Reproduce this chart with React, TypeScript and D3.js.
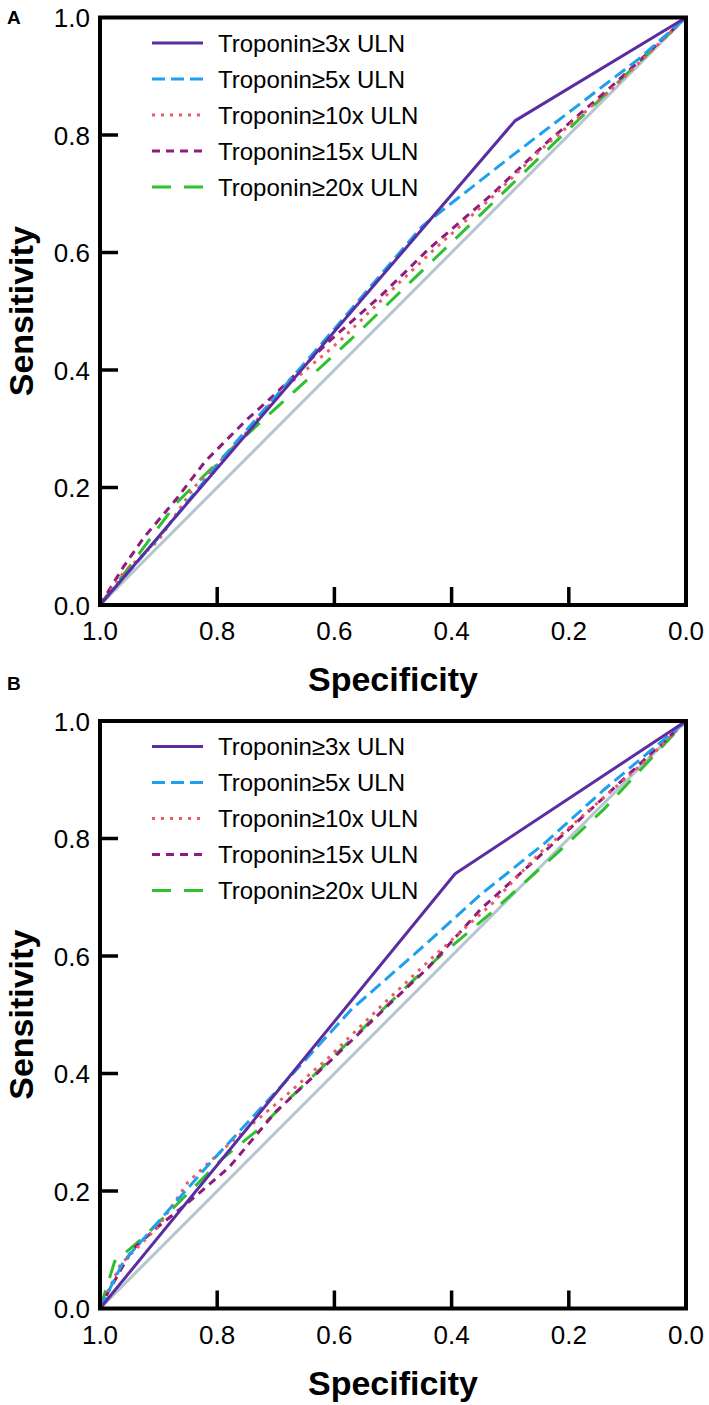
import React from "react";
import * as d3 from "d3";

// ---------- data: [specificity, sensitivity] ----------
const seriesNames = [
  "Troponin≥3x ULN",
  "Troponin≥5x ULN",
  "Troponin≥10x ULN",
  "Troponin≥15x ULN",
  "Troponin≥20x ULN",
];
const seriesColors = ["#5A2DA0", "#1EA0EE", "#EE5A60", "#8E1C7E", "#2EC02E"];
const seriesDash = ["none", "13,6", "3,6", "8,6", "19,13"];

const xTicks = [1.0, 0.8, 0.6, 0.4, 0.2, 0.0];
const yTicks = [0.0, 0.2, 0.4, 0.6, 0.8, 1.0];
const panelLabels = ["A", "B"];

// Panel A
const a3 = [[1, 0], [0.292, 0.824], [0, 1]];
const a5 = [[1, 0], [0.9, 0.115], [0.77, 0.275], [0.6, 0.47], [0.45, 0.645], [0.29, 0.77], [0.08, 0.93], [0, 1]];
const a10 = [[1, 0], [0.96, 0.055], [0.9, 0.11], [0.84, 0.2], [0.77, 0.27], [0.69, 0.365], [0.59, 0.45], [0.49, 0.548], [0.43, 0.605], [0.33, 0.695], [0.24, 0.782], [0.13, 0.875], [0, 1]];
const a15 = [[1, 0], [0.96, 0.065], [0.925, 0.115], [0.87, 0.18], [0.82, 0.245], [0.75, 0.315], [0.7, 0.36], [0.61, 0.448], [0.52, 0.527], [0.44, 0.605], [0.33, 0.7], [0.24, 0.785], [0.13, 0.88], [0, 1]];
const a20 = [[1, 0], [0.95, 0.065], [0.87, 0.173], [0.78, 0.262], [0.67, 0.362], [0.56, 0.463], [0.47, 0.55], [0.35, 0.665], [0.2, 0.81], [0, 1]];

// Panel B
const b3 = [[1, 0], [0.394, 0.74], [0, 1]];
const b5 = [[1, 0], [0.96, 0.08], [0.9, 0.148], [0.81, 0.25], [0.68, 0.39], [0.57, 0.51], [0.46, 0.606], [0.35, 0.705], [0.24, 0.793], [0.14, 0.883], [0, 1]];
const b10 = [[1, 0], [0.965, 0.075], [0.9, 0.14], [0.85, 0.215], [0.78, 0.28], [0.68, 0.365], [0.61, 0.427], [0.52, 0.515], [0.43, 0.6], [0.33, 0.69], [0.25, 0.775], [0.14, 0.87], [0.06, 0.94], [0, 1]];
const b15 = [[1, 0], [0.985, 0.03], [0.945, 0.1], [0.9, 0.14], [0.85, 0.18], [0.78, 0.24], [0.7, 0.335], [0.6, 0.428], [0.5, 0.524], [0.44, 0.58], [0.35, 0.68], [0.25, 0.77], [0.14, 0.87], [0, 1]];
const b20 = [[1, 0], [0.975, 0.08], [0.96, 0.092], [0.927, 0.12], [0.875, 0.171], [0.79, 0.256], [0.727, 0.307], [0.676, 0.358], [0.568, 0.461], [0.466, 0.558], [0.415, 0.604], [0.334, 0.672], [0.22, 0.775], [0.14, 0.85], [0, 1]];

const reference = [[1, 0], [0, 1]];
const panelSeries = [
  [a3, a5, a10, a15, a20],
  [b3, b5, b10, b15, b20],
];

const FONT = "'Liberation Sans', Arial, Helvetica, sans-serif";
const W = 709;
const H = 1405;
const LEFT = 100;
const RIGHT = 686;
const PLOT_H = 587.5;
const panelTops = [17.5, 721];
const panelLabelY = [24, 690];

function Panel({ top, series, label, labelY }: { top: number; series: number[][][]; label: string; labelY: number }) {
  const x = d3.scaleLinear().domain([1, 0]).range([LEFT, RIGHT]);
  const y = d3.scaleLinear().domain([0, 1]).range([top + PLOT_H, top]);
  const line = d3
    .line<number[]>()
    .x((d) => x(d[0]))
    .y((d) => y(d[1]));
  const fmt = d3.format(".1f");
  const bottom = top + PLOT_H;
  const order = [4, 3, 2, 1, 0];
  return (
    <g>
      <text x={7} y={labelY} fontFamily={FONT} fontWeight="bold" fontSize={19} fill="#000">
        {label}
      </text>
      {/* diagonal */}
      <path d={line(reference as any) || ""} stroke="#B5C6CE" strokeWidth={3} fill="none" />
      {order.map((i) => (
        <path
          key={i}
          d={line(series[i] as any) || ""}
          stroke={seriesColors[i]}
          strokeWidth={3}
          fill="none"
          strokeDasharray={seriesDash[i] === "none" ? undefined : seriesDash[i]}
          strokeLinejoin="round"
        />
      ))}
      {/* frame */}
      <rect x={LEFT} y={top} width={RIGHT - LEFT} height={PLOT_H} fill="none" stroke="#000" strokeWidth={4} />
      {/* x ticks */}
      {xTicks.map((t) => (
        <g key={"x" + t}>
          {t > 0 && t < 1 && (
            <line x1={x(t)} x2={x(t)} y1={bottom} y2={bottom - 18} stroke="#000" strokeWidth={3.5} />
          )}
          <text x={x(t)} y={bottom + 35} textAnchor="middle" fontFamily={FONT} fontSize={26} fill="#000">
            {fmt(t)}
          </text>
        </g>
      ))}
      {/* y ticks */}
      {yTicks.map((t) => (
        <g key={"y" + t}>
          {t > 0 && t < 1 && (
            <line x1={LEFT} x2={LEFT + 18} y1={y(t)} y2={y(t)} stroke="#000" strokeWidth={3.5} />
          )}
          <text x={90} y={y(t) + 9.5} textAnchor="end" fontFamily={FONT} fontSize={26} fill="#000">
            {fmt(t)}
          </text>
        </g>
      ))}
      {/* axis titles */}
      <text
        x={(LEFT + RIGHT) / 2}
        y={bottom + 86}
        textAnchor="middle"
        fontFamily={FONT}
        fontWeight="bold"
        fontSize={34}
        fill="#000"
      >
        Specificity
      </text>
      <text
        transform={`translate(33,${(top + bottom) / 2}) rotate(-90)`}
        textAnchor="middle"
        fontFamily={FONT}
        fontWeight="bold"
        fontSize={34}
        fill="#000"
      >
        Sensitivity
      </text>
      {/* legend */}
      {seriesNames.map((name, i) => {
        const ly = top + 25.5 + i * 36;
        return (
          <g key={name}>
            <line
              x1={152}
              x2={203}
              y1={ly}
              y2={ly}
              stroke={seriesColors[i]}
              strokeWidth={3}
              strokeDasharray={seriesDash[i] === "none" ? undefined : seriesDash[i]}
            />
            <text x={218} y={ly + 8.5} fontFamily={FONT} fontSize={24} fill="#000">
              {name}
            </text>
          </g>
        );
      })}
    </g>
  );
}

export default function App() {
  return (
    <div style={{ position: "absolute", left: 0, top: 0, width: W, height: H, background: "#fff" }}>
      <svg width={W} height={H} viewBox={`0 0 ${W} ${H}`} style={{ display: "block" }}>
        <rect x={0} y={0} width={W} height={H} fill="#fff" />
        {panelTops.map((t, i) => (
          <Panel key={i} top={t} series={panelSeries[i]} label={panelLabels[i]} labelY={panelLabelY[i]} />
        ))}
      </svg>
    </div>
  );
}
